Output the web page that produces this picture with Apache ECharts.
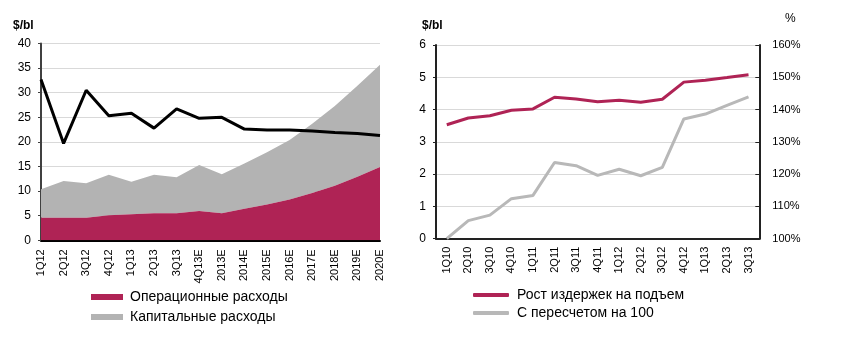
<!DOCTYPE html>
<html>
<head>
<meta charset="utf-8">
<script src="https://cdn.jsdelivr.net/npm/echarts@6/dist/echarts.min.js"></script>
<style>
html,body{margin:0;padding:0;background:#fff;}
#c{width:846px;height:340px;}
</style>
</head>
<body>
<div id="c"></div>
<script>
// Left chart data
var leftCategories = ['1Q12','2Q12','3Q12','4Q12','1Q13','2Q13','3Q13','4Q13E','2013E','2014E','2015E','2016E','2017E','2018E','2019E','2020E'];
var opexValues  = [4.6, 4.6, 4.6, 5.1, 5.3, 5.5, 5.5, 5.95, 5.5, 6.4, 7.3, 8.3, 9.6, 11.1, 12.9, 14.9];
var capexValues = [5.8, 7.45, 7.0, 8.2, 6.6, 7.8, 7.3, 9.35, 7.9, 9.2, 10.6, 12.1, 14.1, 16.2, 18.5, 20.8];
var priceValues = [32.7, 19.7, 30.5, 25.3, 25.8, 22.8, 26.7, 24.8, 25.0, 22.6, 22.4, 22.4, 22.2, 21.9, 21.7, 21.3];
var leftTicks = [0, 5, 10, 15, 20, 25, 30, 35, 40];

// Right chart data
var rightCategories = ['1Q10','2Q10','3Q10','4Q10','1Q11','2Q11','3Q11','4Q11','1Q12','2Q12','3Q12','4Q12','1Q13','2Q13','3Q13'];
var liftingCost = [3.53, 3.74, 3.81, 3.98, 4.02, 4.38, 4.33, 4.24, 4.29, 4.23, 4.32, 4.85, 4.91, 4.99, 5.08];
var rebased     = [100, 105.6, 107.3, 112.4, 113.4, 123.6, 122.6, 119.6, 121.5, 119.5, 122.1, 137.1, 138.6, 141.3, 143.9];
var rightTicksLeft = [0, 1, 2, 3, 4, 5, 6];
var rightTicksPct = ['100%','110%','120%','130%','140%','150%','160%'];

var FONT = 'Liberation Sans, Arial, sans-serif';
var CRIMSON = '#AF2355';
var GREY = '#B3B3B3';
var GRID = '#D9D9D9';

var chart = echarts.init(document.getElementById('c'), null, {renderer: 'canvas'});
var label11 = {color: '#000', fontSize: 11, fontFamily: FONT};
var label12 = {color: '#000', fontSize: 12, fontFamily: FONT};

chart.setOption({
  animation: false,
  backgroundColor: '#fff',
  textStyle: {fontFamily: FONT},
  graphic: [
    {type: 'text', left: 13, top: 20, style: {text: '$/bl', font: 'bold 12px ' + FONT, fill: '#000'}},
    {type: 'text', left: 422, top: 20, style: {text: '$/bl', font: 'bold 12px ' + FONT, fill: '#000'}},
    {type: 'text', left: 785, top: 13, style: {text: '%', font: '12px ' + FONT, fill: '#000'}}
  ],
  legend: [
    {data: ['Операционные расходы'], left: 91, top: 290, padding: 0, icon: 'rect', itemWidth: 32, itemHeight: 6, itemGap: 0,
     textStyle: {fontSize: 14, color: '#000', fontFamily: FONT, padding: [0,0,0,2]}},
    {data: ['Капитальные расходы'], left: 91, top: 310, padding: 0, icon: 'rect', itemWidth: 32, itemHeight: 6, itemGap: 0,
     textStyle: {fontSize: 14, color: '#000', fontFamily: FONT, padding: [0,0,0,2]}},
    {data: ['Рост издержек на подъем'], left: 473, top: 288, padding: 0, icon: 'roundRect', itemWidth: 36, itemHeight: 4, itemGap: 0,
     textStyle: {fontSize: 14, color: '#000', fontFamily: FONT, padding: [0,0,0,3]}},
    {data: ['С пересчетом на 100'], left: 473, top: 306, padding: 0, icon: 'roundRect', itemWidth: 36, itemHeight: 4, itemGap: 0,
     textStyle: {fontSize: 14, color: '#000', fontFamily: FONT, padding: [0,0,0,3]}}
  ],
  grid: [
    {left: 41, right: 466, top: 43.5, bottom: 99.7, containLabel: false},
    {left: 436, right: 86.7, top: 45, bottom: 101.3, containLabel: false}
  ],
  xAxis: [
    {type: 'category', gridIndex: 0, data: leftCategories, boundaryGap: false,
     axisLine: {lineStyle: {color: '#000', width: 2}}, axisTick: {show: false},
     axisLabel: Object.assign({rotate: 90, interval: 0, margin: 9}, label11)},
    {type: 'category', gridIndex: 1, data: rightCategories, boundaryGap: true,
     axisLine: {lineStyle: {color: '#222', width: 2}}, axisTick: {show: false},
     axisLabel: Object.assign({rotate: 90, interval: 0, margin: 8}, label11)}
  ],
  yAxis: [
    {type: 'value', gridIndex: 0, min: leftTicks[0], max: leftTicks[leftTicks.length-1], interval: 5,
     axisLine: {show: true, lineStyle: {color: '#404040', width: 2}},
     axisTick: {show: true, length: 3, lineStyle: {color: '#404040'}},
     splitLine: {lineStyle: {color: GRID, width: 1}},
     axisLabel: Object.assign({margin: 10}, label12)},
    {type: 'value', gridIndex: 1, min: rightTicksLeft[0], max: rightTicksLeft[rightTicksLeft.length-1], interval: 1,
     axisLine: {show: true, lineStyle: {color: '#222', width: 2}},
     axisTick: {show: true, length: 3, lineStyle: {color: '#222'}},
     splitLine: {lineStyle: {color: GRID, width: 1}},
     axisLabel: Object.assign({margin: 10}, label12)},
    {type: 'value', gridIndex: 1, position: 'right', min: 100, max: 160, interval: 10,
     axisLine: {show: true, lineStyle: {color: '#222', width: 2}},
     axisTick: {show: true, inside: true, length: 4, lineStyle: {color: '#222'}},
     splitLine: {show: false},
     axisLabel: Object.assign({margin: 13, formatter: function(v){ return rightTicksPct[Math.round((v-100)/10)]; }}, label11)}
  ],
  series: [
    {name: 'Операционные расходы', type: 'line', xAxisIndex: 0, yAxisIndex: 0, stack: 'cost', data: opexValues,
     symbol: 'none', lineStyle: {width: 0}, itemStyle: {color: CRIMSON},
     areaStyle: {color: CRIMSON, opacity: 1}, z: 2},
    {name: 'Капитальные расходы', type: 'line', xAxisIndex: 0, yAxisIndex: 0, stack: 'cost', data: capexValues,
     symbol: 'none', lineStyle: {width: 0}, itemStyle: {color: GREY},
     areaStyle: {color: GREY, opacity: 1}, z: 1},
    {name: 'Brent', type: 'line', xAxisIndex: 0, yAxisIndex: 0, data: priceValues,
     symbol: 'none', lineStyle: {width: 3, color: '#000'}, itemStyle: {color: '#000'}, z: 5},
    {name: 'Рост издержек на подъем', type: 'line', xAxisIndex: 1, yAxisIndex: 1, data: liftingCost,
     symbol: 'none', lineStyle: {width: 3, color: CRIMSON}, itemStyle: {color: CRIMSON}, z: 4},
    {name: 'С пересчетом на 100', type: 'line', xAxisIndex: 1, yAxisIndex: 2, data: rebased,
     symbol: 'none', lineStyle: {width: 3, color: '#B8B8B8'}, itemStyle: {color: '#B8B8B8'}, z: 3}
  ]
});
</script>
</body>
</html>
